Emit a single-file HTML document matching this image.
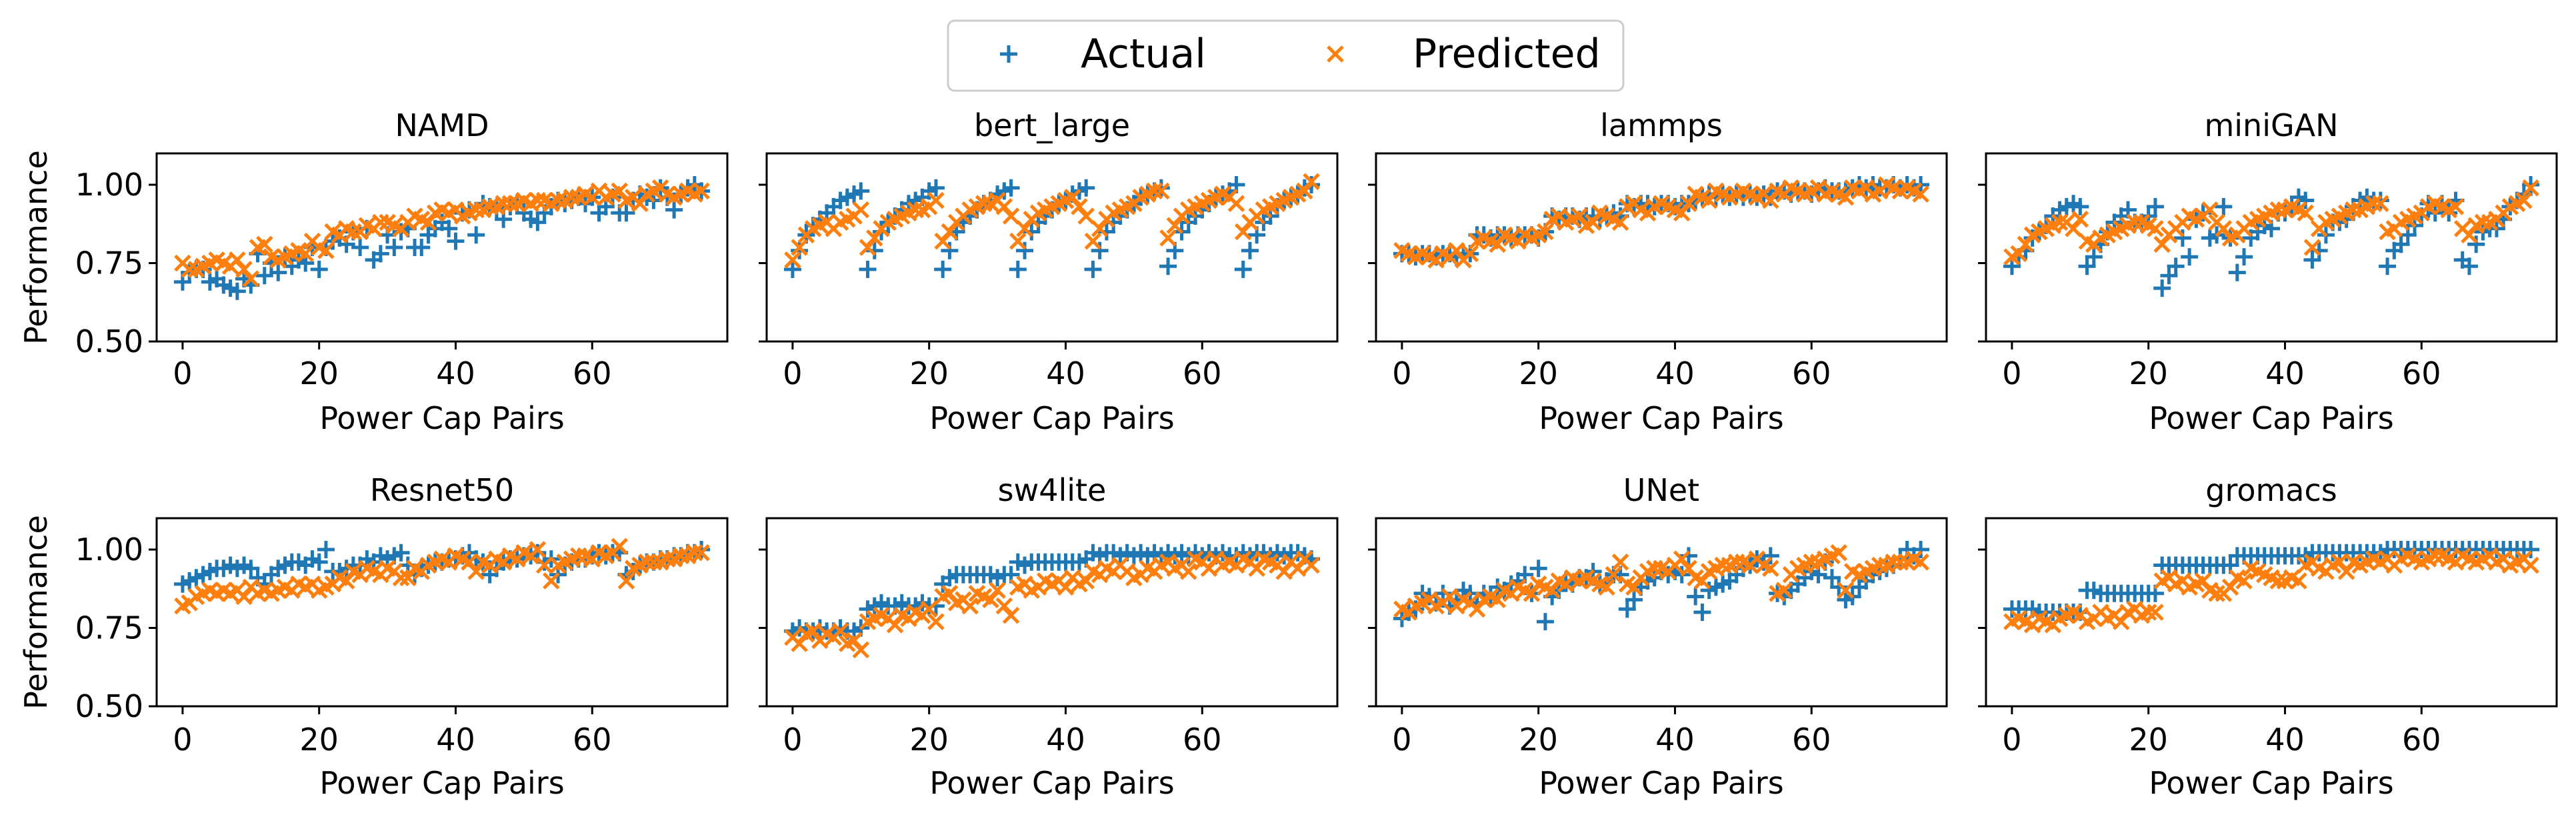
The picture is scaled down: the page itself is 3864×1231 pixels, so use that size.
<!DOCTYPE html>
<html><head><meta charset="utf-8"><style>
html,body{margin:0;padding:0;background:#fff;}
svg{display:block;font-family:"DejaVu Sans","Liberation Sans",sans-serif;}
</style></head><body>
<svg id="fig" width="3864" height="1231" viewBox="0 0 3864 1231" xmlns="http://www.w3.org/2000/svg">
<rect width="3864" height="1231" fill="#fff"/>
<g id="legend">
<rect x="1422" y="31" width="1013" height="105" rx="10" fill="#fff" stroke="#ccc" stroke-width="3"/>
<g><path d="M1500 81h26M1513 68v26" stroke="#1f77b4" stroke-width="5"/><text x="1621" y="101" font-size="60">Actual</text></g>
<g><path d="M1992 70l22 22M1992 92l22 -22" stroke="#ff7f0e" stroke-width="5"/><text x="2119" y="101" font-size="60">Predicted</text></g>
</g>
</svg>
<script>
const titles=["NAMD","bert_large","lammps","miniGAN","Resnet50","sw4lite","UNet","gromacs"];
const xTicks=[0,20,40,60];
const yTicks=[0.5,0.75,1.0];
const yTickLabels=["0.50","0.75","1.00"];
const actualNAMD=[0.69,0.72,0.73,0.73,0.69,0.70,0.68,0.67,0.66,0.70,0.68,0.78,0.71,0.75,0.72,0.77,0.74,0.76,0.75,0.80,0.73,0.80,0.82,0.83,0.81,0.85,0.80,0.86,0.76,0.78,0.84,0.80,0.85,0.86,0.80,0.80,0.84,0.86,0.88,0.86,0.82,0.91,0.92,0.84,0.94,0.93,0.92,0.89,0.93,0.94,0.91,0.89,0.88,0.91,0.93,0.95,0.94,0.95,0.96,0.94,0.96,0.91,0.93,0.96,0.91,0.91,0.95,0.97,0.96,0.95,0.99,0.96,0.92,0.97,0.99,1.0,0.98];
const predNAMD=[0.75,0.73,0.73,0.74,0.75,0.76,0.75,0.74,0.76,0.73,0.70,0.80,0.81,0.77,0.76,0.77,0.78,0.79,0.78,0.82,0.80,0.79,0.85,0.84,0.86,0.85,0.85,0.87,0.86,0.88,0.88,0.87,0.86,0.88,0.90,0.89,0.88,0.91,0.92,0.91,0.92,0.90,0.91,0.92,0.92,0.93,0.93,0.94,0.94,0.94,0.95,0.94,0.95,0.95,0.94,0.95,0.95,0.96,0.96,0.97,0.96,0.98,0.96,0.97,0.98,0.95,0.96,0.94,0.97,0.98,0.99,0.97,0.96,0.97,0.98,0.97,0.98];
const actualBert=[0.73,0.79,0.84,0.87,0.89,0.91,0.93,0.95,0.96,0.97,0.98,0.73,0.79,0.85,0.88,0.90,0.92,0.94,0.95,0.96,0.98,0.99,0.73,0.79,0.85,0.88,0.90,0.92,0.94,0.95,0.97,0.98,0.99,0.73,0.79,0.85,0.88,0.90,0.92,0.94,0.95,0.97,0.98,0.99,0.73,0.79,0.85,0.88,0.90,0.92,0.94,0.96,0.97,0.98,0.99,0.74,0.79,0.85,0.88,0.90,0.92,0.94,0.96,0.97,0.98,1.0,0.73,0.79,0.84,0.88,0.90,0.93,0.95,0.96,0.97,0.99,1.0];
const predBert=[0.76,0.80,0.84,0.86,0.87,0.88,0.86,0.88,0.89,0.90,0.92,0.80,0.83,0.86,0.88,0.89,0.90,0.91,0.92,0.92,0.93,0.95,0.82,0.85,0.88,0.90,0.92,0.93,0.94,0.94,0.95,0.93,0.90,0.82,0.86,0.89,0.91,0.92,0.93,0.94,0.95,0.96,0.93,0.90,0.82,0.86,0.89,0.91,0.92,0.93,0.94,0.96,0.97,0.98,0.98,0.83,0.87,0.90,0.92,0.93,0.94,0.95,0.96,0.97,0.96,0.94,0.85,0.88,0.90,0.92,0.93,0.94,0.95,0.96,0.97,0.98,1.01];
const actualLammps=[0.78,0.78,0.77,0.78,0.78,0.77,0.78,0.78,0.77,0.78,0.78,0.84,0.84,0.83,0.84,0.84,0.83,0.84,0.84,0.84,0.83,0.85,0.90,0.89,0.90,0.90,0.89,0.90,0.90,0.89,0.90,0.91,0.90,0.94,0.93,0.94,0.94,0.93,0.94,0.94,0.93,0.94,0.94,0.95,0.96,0.97,0.96,0.97,0.96,0.97,0.96,0.97,0.96,0.97,0.96,0.98,0.98,0.97,0.98,0.98,0.97,0.98,0.99,0.98,0.98,0.98,0.99,1.0,0.99,1.0,0.99,0.99,1.0,0.99,1.0,0.99,1.0];
const predLammps=[0.79,0.78,0.77,0.78,0.77,0.76,0.78,0.77,0.79,0.76,0.78,0.82,0.83,0.82,0.81,0.84,0.83,0.82,0.84,0.83,0.84,0.85,0.89,0.90,0.88,0.89,0.90,0.87,0.88,0.91,0.90,0.89,0.88,0.93,0.94,0.92,0.91,0.93,0.94,0.93,0.92,0.91,0.94,0.97,0.96,0.95,0.98,0.97,0.96,0.97,0.98,0.97,0.96,0.97,0.95,0.98,0.97,0.99,0.98,0.97,0.98,0.99,0.97,0.98,0.97,0.96,0.99,0.98,0.99,0.97,0.98,1.0,0.99,0.98,0.99,0.98,0.97];
const actualMiniGAN=[0.74,0.77,0.79,0.83,0.85,0.87,0.90,0.92,0.93,0.94,0.93,0.74,0.77,0.81,0.85,0.88,0.90,0.92,0.88,0.88,0.90,0.93,0.67,0.71,0.74,0.83,0.77,0.89,0.91,0.83,0.84,0.93,0.83,0.72,0.77,0.83,0.85,0.87,0.86,0.91,0.91,0.93,0.96,0.95,0.76,0.79,0.84,0.88,0.88,0.89,0.93,0.95,0.96,0.95,0.95,0.74,0.79,0.81,0.84,0.87,0.90,0.94,0.91,0.94,0.91,0.95,0.76,0.74,0.81,0.85,0.86,0.86,0.89,0.93,0.95,0.97,1.0];
const predMiniGAN=[0.77,0.78,0.81,0.84,0.85,0.86,0.87,0.88,0.88,0.86,0.89,0.82,0.81,0.83,0.84,0.85,0.86,0.87,0.88,0.88,0.87,0.86,0.81,0.84,0.86,0.88,0.90,0.89,0.90,0.92,0.88,0.86,0.83,0.84,0.86,0.88,0.89,0.90,0.91,0.92,0.92,0.93,0.92,0.91,0.80,0.86,0.88,0.89,0.90,0.91,0.92,0.92,0.93,0.94,0.94,0.85,0.86,0.88,0.89,0.90,0.91,0.93,0.94,0.93,0.92,0.93,0.86,0.84,0.87,0.88,0.88,0.89,0.91,0.93,0.94,0.95,0.99];
const actualResnet=[0.89,0.90,0.91,0.92,0.93,0.94,0.94,0.95,0.94,0.95,0.94,0.91,0.89,0.92,0.94,0.95,0.96,0.96,0.95,0.97,0.96,1.0,0.93,0.93,0.94,0.95,0.95,0.97,0.96,0.98,0.97,0.98,0.99,0.95,0.92,0.94,0.95,0.96,0.96,0.97,0.97,0.98,0.99,0.97,0.96,0.92,0.94,0.96,0.97,0.97,0.98,0.98,0.99,0.96,0.97,0.92,0.95,0.96,0.97,0.97,0.98,0.99,0.98,0.99,0.99,0.92,0.93,0.95,0.96,0.96,0.97,0.97,0.98,0.98,0.99,0.99,1.0];
const predResnet=[0.82,0.83,0.85,0.86,0.87,0.86,0.87,0.86,0.87,0.85,0.88,0.86,0.87,0.86,0.87,0.88,0.87,0.89,0.88,0.89,0.87,0.88,0.89,0.91,0.90,0.93,0.92,0.94,0.93,0.92,0.94,0.93,0.91,0.91,0.94,0.93,0.95,0.96,0.97,0.96,0.98,0.97,0.96,0.93,0.96,0.95,0.97,0.96,0.98,0.97,0.99,0.98,1.0,0.95,0.90,0.95,0.96,0.97,0.98,0.98,0.97,0.99,0.98,0.99,1.01,0.90,0.94,0.95,0.96,0.96,0.96,0.97,0.97,0.98,0.98,0.99,0.99];
const actualSw4=[0.74,0.75,0.74,0.74,0.75,0.74,0.74,0.75,0.74,0.74,0.75,0.81,0.82,0.83,0.82,0.82,0.83,0.82,0.82,0.83,0.82,0.82,0.89,0.91,0.92,0.92,0.92,0.92,0.92,0.92,0.91,0.92,0.92,0.96,0.95,0.96,0.96,0.96,0.96,0.96,0.96,0.96,0.96,0.97,0.99,0.98,0.99,0.99,0.98,0.99,0.98,0.99,0.98,0.99,0.98,0.99,0.98,0.99,0.98,0.99,0.98,0.99,0.98,0.99,0.98,0.98,0.99,0.98,0.99,0.99,0.98,0.99,0.98,0.99,0.99,0.98,0.97];
const predSw4=[0.72,0.70,0.73,0.74,0.71,0.73,0.72,0.74,0.70,0.71,0.68,0.77,0.78,0.79,0.78,0.76,0.79,0.78,0.80,0.79,0.81,0.77,0.85,0.86,0.83,0.84,0.82,0.86,0.85,0.84,0.87,0.82,0.79,0.88,0.89,0.87,0.88,0.90,0.89,0.90,0.88,0.91,0.89,0.90,0.93,0.92,0.94,0.93,0.95,0.93,0.91,0.92,0.94,0.93,0.95,0.96,0.94,0.95,0.93,0.97,0.96,0.94,0.97,0.95,0.96,0.95,0.97,0.96,0.94,0.97,0.96,0.95,0.93,0.96,0.94,0.97,0.95];
const actualUNet=[0.78,0.80,0.81,0.86,0.85,0.83,0.86,0.82,0.84,0.87,0.86,0.83,0.86,0.85,0.88,0.87,0.89,0.90,0.92,0.86,0.94,0.77,0.85,0.87,0.90,0.89,0.91,0.91,0.93,0.89,0.90,0.92,0.92,0.81,0.84,0.88,0.90,0.91,0.93,0.92,0.93,0.92,0.98,0.85,0.80,0.87,0.88,0.89,0.90,0.92,0.94,0.95,0.97,0.96,0.98,0.86,0.85,0.87,0.89,0.91,0.93,0.92,0.96,0.91,0.88,0.84,0.85,0.88,0.90,0.92,0.93,0.94,0.95,0.97,1.0,0.98,1.0];
const predUNet=[0.81,0.80,0.82,0.83,0.84,0.82,0.83,0.85,0.82,0.84,0.83,0.81,0.84,0.85,0.84,0.87,0.86,0.88,0.87,0.86,0.89,0.88,0.87,0.90,0.89,0.91,0.90,0.91,0.90,0.89,0.88,0.92,0.96,0.89,0.88,0.91,0.93,0.94,0.94,0.93,0.95,0.97,0.94,0.91,0.90,0.93,0.94,0.95,0.95,0.96,0.96,0.95,0.97,0.95,0.94,0.86,0.87,0.92,0.94,0.95,0.96,0.96,0.97,0.98,0.99,0.87,0.93,0.92,0.93,0.94,0.95,0.95,0.96,0.96,0.96,0.97,0.96];
const actualGromacs=[0.81,0.81,0.81,0.81,0.80,0.80,0.80,0.80,0.80,0.80,0.80,0.87,0.87,0.86,0.86,0.86,0.86,0.86,0.86,0.86,0.86,0.86,0.95,0.95,0.95,0.95,0.95,0.95,0.95,0.95,0.95,0.95,0.95,0.98,0.98,0.98,0.98,0.98,0.98,0.98,0.98,0.98,0.98,0.98,0.99,0.99,0.99,0.99,0.99,0.99,0.99,0.99,0.99,0.99,0.99,1.0,1.0,1.0,1.0,1.0,1.0,1.0,1.0,1.0,1.0,1.0,1.0,1.0,1.0,1.0,1.0,1.0,1.0,1.0,1.0,1.0,1.0];
const predGromacs=[0.77,0.78,0.77,0.76,0.78,0.77,0.76,0.78,0.79,0.80,0.79,0.77,0.78,0.80,0.78,0.79,0.77,0.80,0.81,0.79,0.80,0.80,0.90,0.91,0.89,0.90,0.88,0.89,0.90,0.87,0.86,0.86,0.88,0.91,0.90,0.94,0.93,0.92,0.91,0.90,0.90,0.91,0.90,0.95,0.96,0.94,0.93,0.95,0.96,0.93,0.96,0.95,0.96,0.97,0.96,0.97,0.95,0.97,0.98,0.97,0.96,0.97,0.98,0.98,0.97,0.96,0.98,0.97,0.96,0.97,0.98,0.96,0.97,0.95,0.96,0.97,0.95];
const actualSeries=[actualNAMD,actualBert,actualLammps,actualMiniGAN,actualResnet,actualSw4,actualUNet,actualGromacs];
const predSeries=[predNAMD,predBert,predLammps,predMiniGAN,predResnet,predSw4,predUNet,predGromacs];

const NS="http://www.w3.org/2000/svg";
const fig=document.getElementById('fig');
const legend=document.getElementById('legend');
const colLeft=[235,1150,2064,2979], axW=856, rowTop=[230,777], axH=282;
const XMIN=-3.8,XMAX=79.8,YMIN=0.5,YMAX=1.1;
function mk(tag,attrs,parent){const e=document.createElementNS(NS,tag);for(const k in attrs)e.setAttribute(k,attrs[k]);parent.appendChild(e);return e;}
for(let p=0;p<8;p++){
  const r=Math.floor(p/4),c=p%4;
  const L=colLeft[c],T=rowTop[r];
  const sx=v=>L+(v-XMIN)/(XMAX-XMIN)*axW;
  const sy=v=>T+axH-(v-YMIN)/(YMAX-YMIN)*axH;
  const g=mk('g',{},fig);
  
  
  const t=mk('text',{x:L+axW/2,y:r?751:204,'font-size':46,'text-anchor':'middle'},g);
  t.textContent=titles[p];
  
  
  for(let i=0;i<xTicks.length;i++){
    const x=sx(xTicks[i]);
    mk('line',{x1:x,x2:x,y1:T+axH,y2:T+axH+12,stroke:'#000','stroke-width':3},g);
    const tl=mk('text',{x:x,y:r?1125:576,'font-size':46,'text-anchor':'middle'},g);
    tl.textContent=xTicks[i];
    
    
  }
  for(let i=0;i<yTicks.length;i++){
    const y=sy(yTicks[i]);
    mk('line',{x1:L-12,x2:L,y1:y,y2:y,stroke:'#000','stroke-width':3},g);
    if(c===0){
      const yl=mk('text',{x:L-20,y:y+16,'font-size':46,'text-anchor':'end'},g);
      yl.textContent=yTickLabels[i];
      
      
    }
  }
  const xl=mk('text',{x:L+axW/2,y:r?1190:643,'font-size':46,'text-anchor':'middle'},g);
  xl.textContent='Power Cap Pairs';
  
  
  if(c===0){
    const yt=mk('text',{x:0,y:0,'font-size':46,'text-anchor':'middle',transform:`translate(${L-165},${T+axH/2}) rotate(-90)`},g);
    yt.textContent='Performance';
    
    
  }
  const a=actualSeries[p],pr=predSeries[p];
  let d1='',d2='';
  for(let i=0;i<a.length;i++){const x=sx(i),y=sy(a[i]);d1+=`M${x-13} ${y}h26M${x} ${y-13}v26`;}
  for(let i=0;i<pr.length;i++){const x=sx(i),y=sy(pr[i]);d2+=`M${x-11} ${y-11}l22 22M${x-11} ${y+11}l22 -22`;}
  const s1=mk('path',{d:d1,stroke:'#1f77b4','stroke-width':5,fill:'none'},g);
  
  
  const s2=mk('path',{d:d2,stroke:'#ff7f0e','stroke-width':5,fill:'none'},g);
  
  
  const fr=mk('rect',{x:L,y:T,width:axW,height:axH,fill:'none',stroke:'#000','stroke-width':3},g);
  
  
}
fig.appendChild(legend);
</script>
</body></html>
